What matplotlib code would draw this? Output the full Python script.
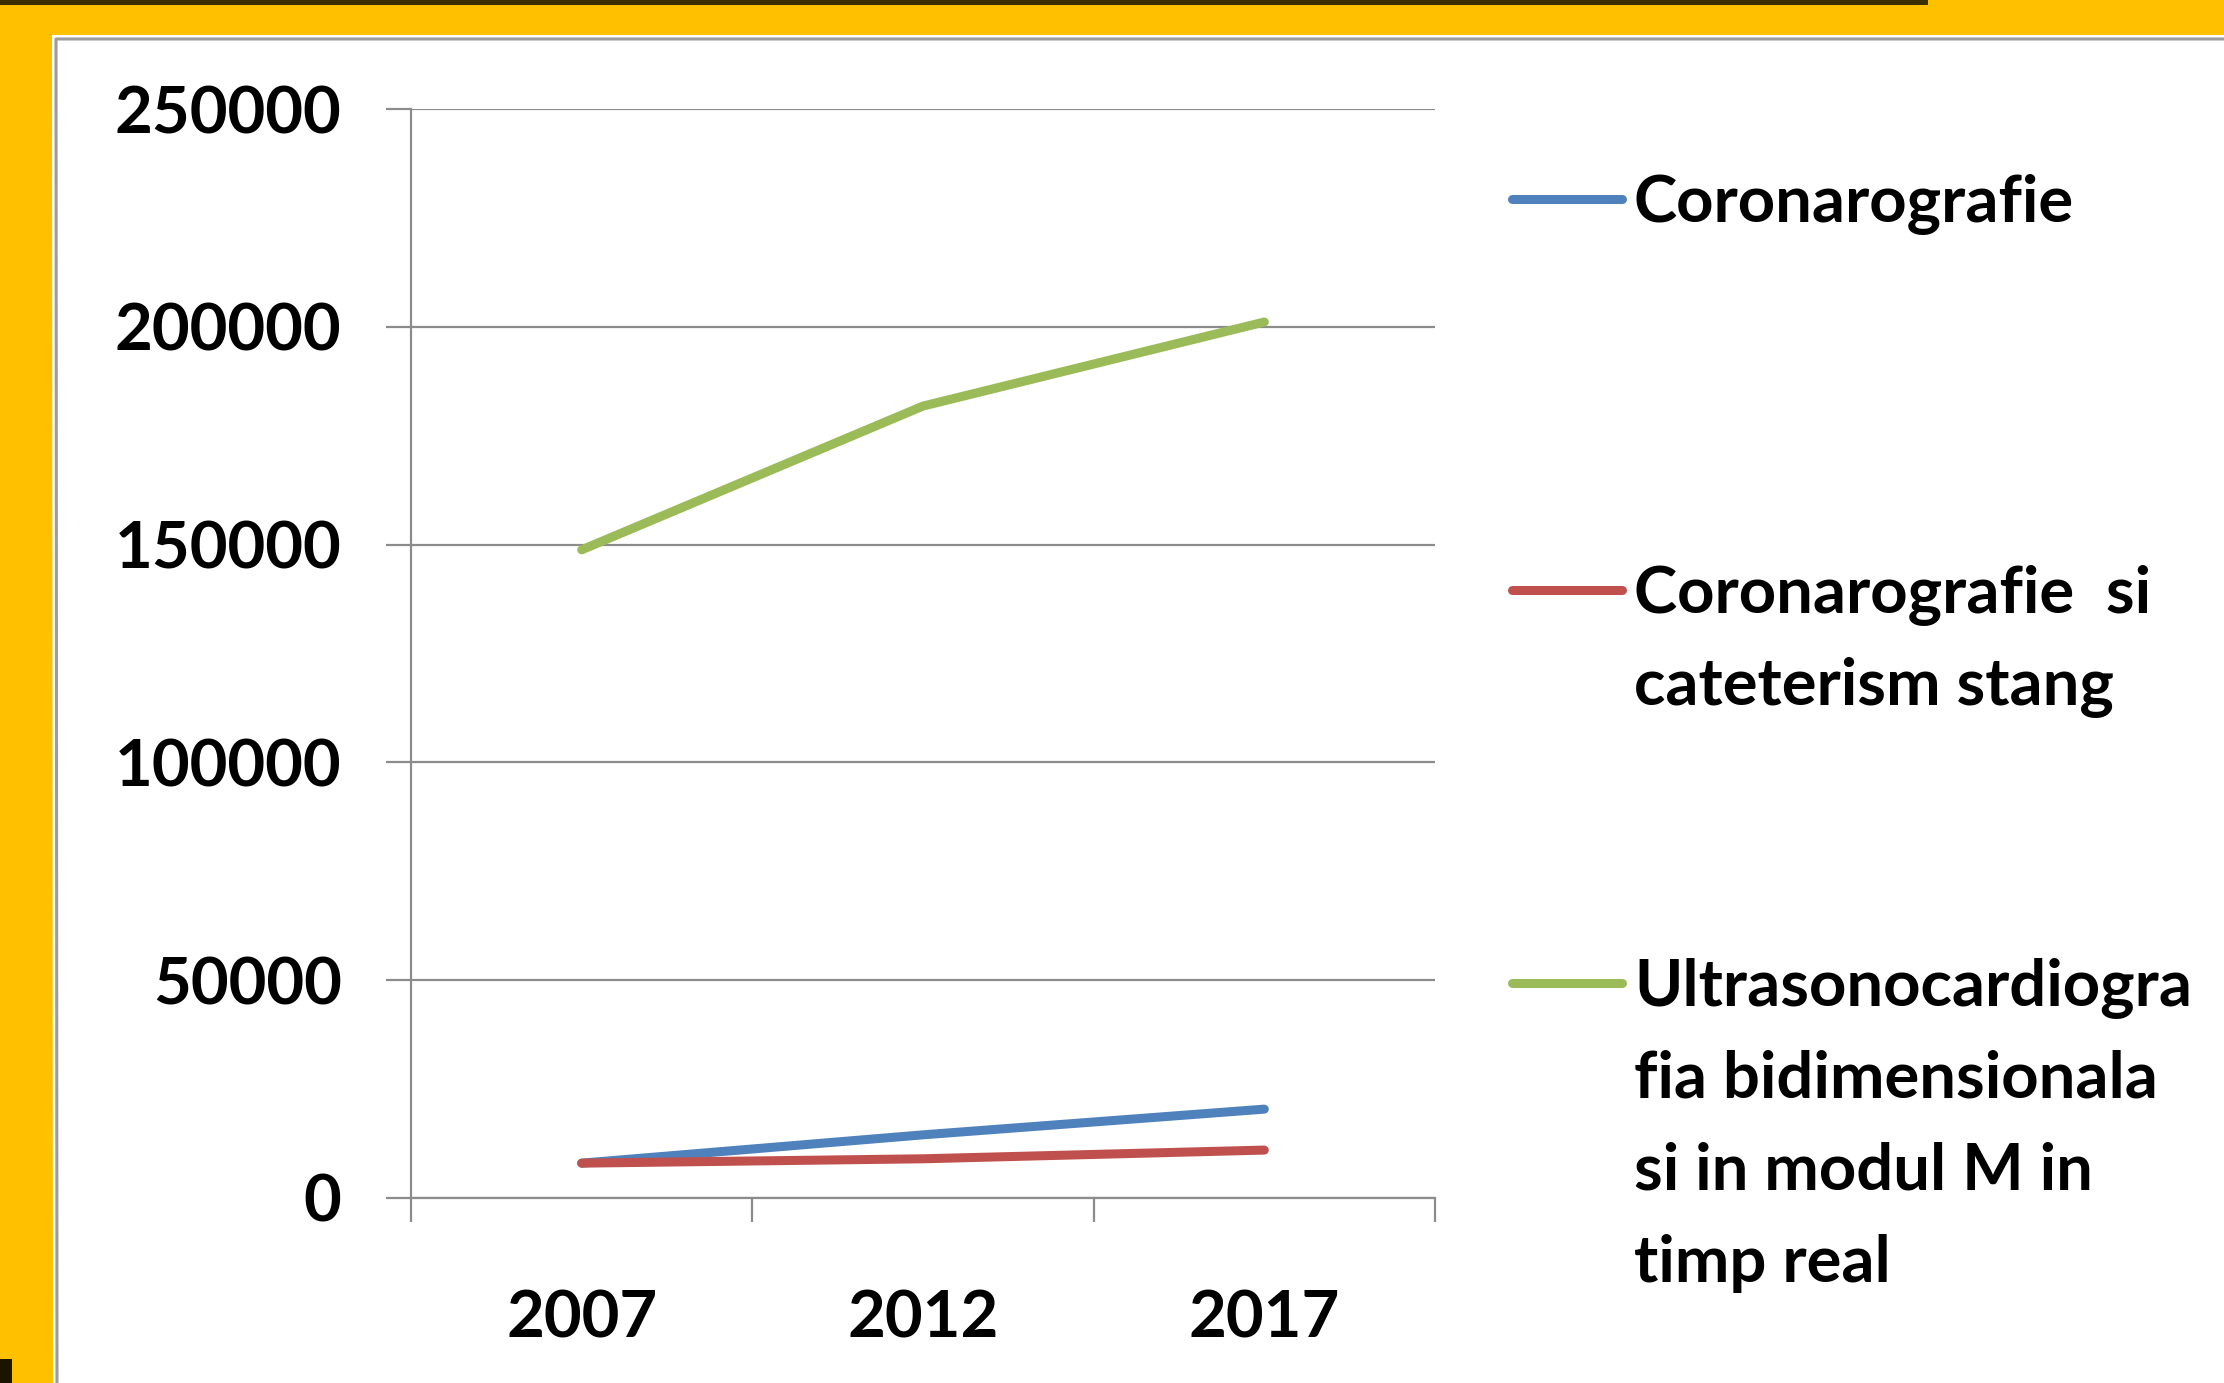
import numpy as np
import matplotlib
matplotlib.use("Agg")
import matplotlib.pyplot as plt
from matplotlib.lines import Line2D
from matplotlib.patches import Polygon, Rectangle

# values
years = ['2007', '2012', '2017']
coronarografie = [8000, 14500, 20400]
coronaro_cateterism = [8000, 9000, 11000]
ultrasono = [148800, 181800, 201100]

series_names = ['Coronarografie',
                'Coronarografie  si\ncateterism stang',
                'Ultrasonocardiogra\nfia bidimensionala\nsi in modul M in\ntimp real']
series_colors = ['#4F81BD', '#C0504D', '#9BBB59']
yticks = [0, 50000, 100000, 150000, 200000, 250000]

plt.rcParams['font.family'] = ['Lato', 'DejaVu Sans']
plt.rcParams['font.weight'] = 'bold'

W, H = 2224, 1383
fig = plt.figure(figsize=(W / 100, H / 100), dpi=100, facecolor='#FFC000')


def px(x, y):
    """pixel position from top-left -> figure fraction"""
    return x / W, 1 - y / H


# slide background: dark strip, white panel with grey edge (kept below the axes)
fig.patches.append(Rectangle(px(0, 5), 1928 / W, 5 / H, transform=fig.transFigure,
                             facecolor='#3B2E00', edgecolor='none', zorder=-3))
fig.patches.append(Rectangle(px(0, H), 12 / W, 24 / H, transform=fig.transFigure,
                             facecolor='#1A1400', edgecolor='none', zorder=-3))
fig.patches.append(Polygon([px(52, 35), px(W, 35), px(W, H), px(53, H)],
                           closed=True, transform=fig.transFigure,
                           facecolor='white', edgecolor='none', zorder=-3))
fig.lines.append(Line2D([px(57, H)[0], px(56, 39)[0], px(W, 39)[0]],
                        [px(57, H)[1], px(56, 39)[1], px(W, 39)[1]],
                        transform=fig.transFigure, color='#9C9C9C', lw=2.2, zorder=-2))

l, t = px(411, 109)
r, b = px(1435, 1198)
ax = fig.add_axes([l, b, r - l, t - b])
ax.set_facecolor('none')

x = np.arange(len(years))
lines = []
for vals, c in zip([coronarografie, coronaro_cateterism, ultrasono], series_colors):
    ln, = ax.plot(x, vals, color=c, lw=6.5, solid_capstyle='round', zorder=3)
    lines.append(ln)

ax.set_xlim(-0.5, len(years) - 0.5)
ax.set_ylim(0, 250000)
ax.set_yticks(yticks)
ax.set_yticklabels([str(v) for v in yticks])
ax.set_xticks(x)
ax.set_xticklabels(years)
ax.set_xticks(np.arange(len(years) + 1) - 0.5, minor=True)

grid_c = '#8C8C8C'
ax.grid(axis='y', color=grid_c, lw=1.6)
ax.set_axisbelow(True)
for s in ['top', 'right']:
    ax.spines[s].set_visible(False)
for s in ['left', 'bottom']:
    ax.spines[s].set_color(grid_c)
    ax.spines[s].set_linewidth(1.6)

ax.tick_params(axis='y', length=18, width=1.6, color=grid_c, pad=32,
               labelsize=47, labelcolor='black')
ax.tick_params(axis='x', which='major', length=0, pad=66, labelsize=47, labelcolor='black')
ax.tick_params(axis='x', which='minor', length=17, width=1.6, color=grid_c)

# legend drawn by hand so that each marker sits on the first line of its label
entry_y = [199, 590, 983]
for ln, name, ey in zip(lines, series_names, entry_y):
    x0, y0 = px(1512, ey)
    x1, _ = px(1622, ey)
    fig.lines.append(Line2D([x0, x1], [y0, y0], transform=fig.transFigure,
                            color=ln.get_color(), lw=6.5, solid_capstyle='round'))
    for k, part in enumerate(name.split('\n')):
        tx, ty = px(1634, ey + 23 + k * 92)
        fig.text(tx, ty, part, fontsize=47, fontweight='bold', ha='left', va='baseline')

fig.savefig('out.png', dpi=100, facecolor=fig.get_facecolor())
